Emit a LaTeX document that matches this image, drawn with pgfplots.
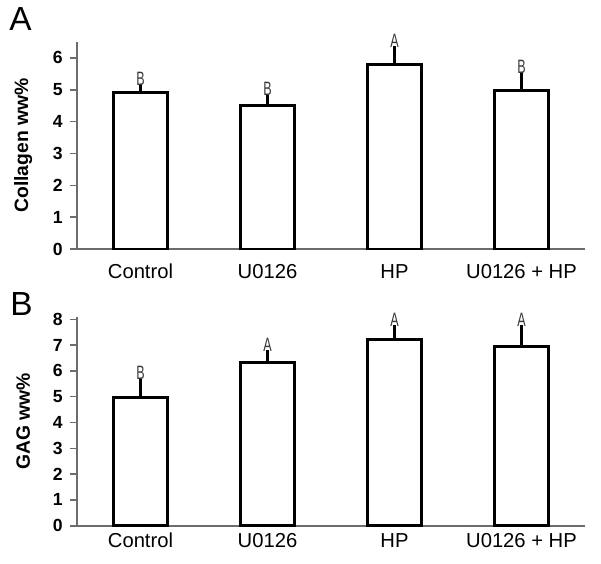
\documentclass[border=0pt]{standalone}
\usepackage{fontspec}
\setmainfont{Liberation Sans}
\usepackage{graphicx}
\usepackage{pgfplots}
\usepackage{pgfplotstable}
\pgfplotsset{compat=1.18}

% x = group, y = mean, err = upper error, lab = significance letter
\pgfplotstableread{
x y err lab
0 4.92 0.25 B
1 4.50 0.35 B
2 5.80 0.58 A
3 4.97 0.60 B
}\collagen

\pgfplotstableread{
x y err lab
0 4.98 0.75 B
1 6.33 0.48 A
2 7.20 0.58 A
3 6.95 0.83 A
}\gag

\pgfplotsset{
  panel/.style={
    scale only axis,
    width=10.16cm,
    anchor=south west,
    xmin=-0.5, xmax=3.5,
    ymin=0,
    clip=false,
    axis x line*=bottom,
    axis y line*=left,
    axis line style={draw=gray!85!black, line width=0.9pt},
    tick style={draw=gray!85!black, line width=0.9pt},
    tick align=outside,
    major tick length=0.13cm,
    xtick={0,1,2,3},
    xticklabels={Control,U0126,HP,U0126 + HP},
    xtick style={draw=none},
    extra x ticks={0.5,1.5,2.5,3.5},
    extra x tick labels={},
    extra x tick style={tick style={draw=gray!85!black, line width=0.9pt}},
    xticklabel style={font=\fontsize{11.5}{13}\selectfont, anchor=north,
      text height=1.6ex, text depth=0.3ex},
    ytick distance=1,
    /pgf/number format/assume math mode=true,
    yticklabel style={font=\bfseries\fontsize{10}{12}\selectfont, xshift=-1pt},
    ylabel style={font=\bfseries\fontsize{11}{13}\selectfont,
      at={(axis description cs:-0.106,0.5)}, anchor=center},
  },
  bars/.style={
    ybar, bar width=0.42, fill=white, draw=black, line width=1.7pt,
    error bars/.cd, y dir=plus, y explicit,
    error bar style={line width=1.6pt, black}, error mark=none,
  },
  letters/.style={
    only marks, mark=*, mark size=0pt, mark options={draw=none, fill=none},
    point meta=explicit symbolic,
    nodes near coords={\scalebox{0.65}[1]{\pgfplotspointmeta}},
    every node near coord/.append style={anchor=south, inner sep=0pt,
      yshift=-1pt, text=gray!45!black, font=\fontsize{11}{11}\selectfont},
  },
}

\begin{document}
\begin{tikzpicture}
\path (0,0) rectangle (12.02cm,-11.26cm);

\node[anchor=north west, inner sep=0pt, font=\fontsize{19}{19}\selectfont] at (0.18cm,-0.14cm) {A};
\node[anchor=north west, inner sep=0pt, font=\fontsize{19}{19}\selectfont] at (0.2cm,-5.84cm) {B};

\begin{axis}[panel, at={(1.54cm,-4.98cm)}, height=4.14cm, ymax=6.5,
    ylabel={Collagen ww\%}, xticklabel style={yshift=-0.04cm}]
  \addplot[bars] table[x=x, y=y, y error=err]{\collagen};
  \addplot[letters] table[x=x, y expr=\thisrow{y}+\thisrow{err}, meta=lab]{\collagen};
\end{axis}

\begin{axis}[panel, at={(1.54cm,-10.514cm)}, height=4.18cm, ymax=8.1,
    ylabel={GAG ww\%}, xticklabel style={yshift=0.11cm}]
  \addplot[bars] table[x=x, y=y, y error=err]{\gag};
  \addplot[letters] table[x=x, y expr=\thisrow{y}+\thisrow{err}, meta=lab]{\gag};
\end{axis}
\end{tikzpicture}
\end{document}
